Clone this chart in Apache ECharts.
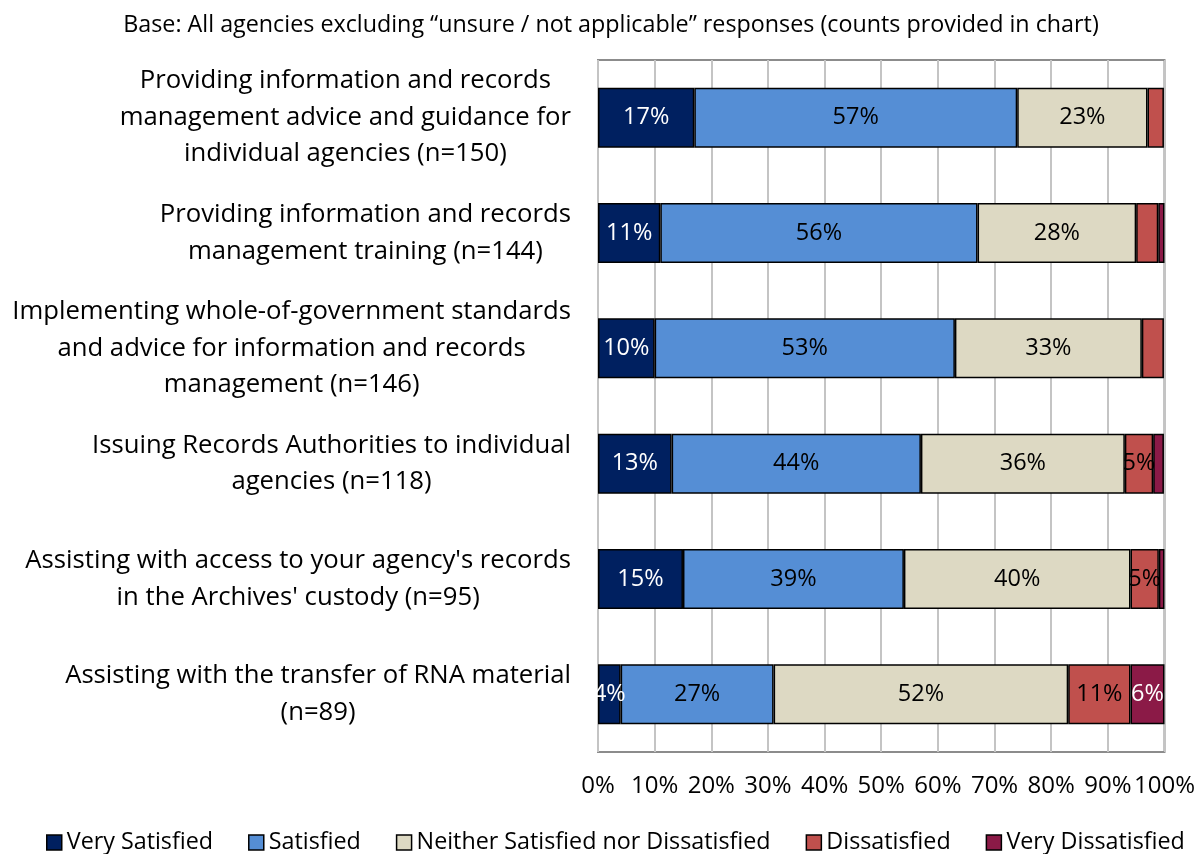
<!DOCTYPE html>
<html>
<head>
<meta charset="utf-8">
<script src="https://cdn.jsdelivr.net/npm/echarts@6/dist/echarts.min.js"></script>
<style>
  html, body { margin: 0; padding: 0; background: #fff; }
  #chart { width: 1198px; height: 854px; }
</style>
</head>
<body>
<div id="chart"></div>
<script>
const categories = [
  'Providing information and records\nmanagement advice and guidance for\nindividual agencies (n=150)',
  'Providing information and records\nmanagement training (n=144)',
  'Implementing whole-of-government standards\nand advice for information and records\nmanagement (n=146)',
  'Issuing Records Authorities to individual\nagencies (n=118)',
  "Assisting with access to your agency's records\nin the Archives' custody (n=95)",
  'Assisting with the transfer of RNA material\n(n=89)'
];
const verySatisfied = [17, 11, 10, 13, 15, 4];
const satisfied = [57, 56, 53, 44, 39, 27];
const neither = [23, 28, 33, 36, 40, 52];
const dissatisfied = [2.9, 3.9, 3.9, 5, 5, 11];
const veryDissatisfied = [0, 1.1, 0, 1.9, 1, 6];
const tickLabels = ['0%', '10%', '20%', '30%', '40%', '50%', '60%', '70%', '80%', '90%', '100%'];

const FONT = '"Open Sans", "Liberation Sans", sans-serif';

const chart = echarts.init(document.getElementById('chart'));

const makeSeries = (name, data, color, labelColor) => ({
  name: name,
  type: 'bar',
  stack: 'total',
  barWidth: '52%',
  data: data.map(v => (v > 0 ? v : null)),
  itemStyle: { color: color, borderColor: '#000', borderWidth: 1.5 },
  label: {
    show: true,
    position: 'inside',
    color: labelColor,
    fontFamily: FONT,
    fontSize: 23.5,
    formatter: p => (p.value >= 4 ? Math.round(p.value) + '%' : '')
  }
});

const option = {
  animation: false,
  title: {
    text: 'Base: All agencies excluding \u201cunsure / not applicable\u201d responses (counts provided in chart)',
    left: 606,
    textAlign: 'center',
    top: 9,
    textStyle: { fontFamily: FONT, fontSize: 23.3, fontWeight: 'normal', color: '#000' }
  },
  legend: {
    top: 831,
    left: 46,
    width: 1152,
    padding: 0,
    itemWidth: 15,
    itemHeight: 15,
    itemGap: 35,
    icon: 'rect',
    itemStyle: { borderColor: '#000', borderWidth: 1.5 },
    textStyle: { fontFamily: FONT, fontSize: 23.3, color: '#000' }
  },
  grid: {
    left: 598,
    right: 33,
    top: 60,
    bottom: 102,
    show: true,
    borderColor: '#8c8c8c',
    borderWidth: 2
  },
  xAxis: {
    type: 'value',
    min: 0,
    max: 100,
    interval: 10,
    axisLine: { show: false },
    axisTick: { show: false },
    splitLine: { lineStyle: { color: '#c4c4c4', width: 2 } },
    axisLabel: {
      margin: 22,
      color: '#000',
      fontFamily: FONT,
      fontSize: 24,
      formatter: v => tickLabels[Math.round(v / 10)]
    }
  },
  yAxis: {
    type: 'category',
    inverse: true,
    data: categories,
    axisLine: { show: false },
    axisTick: { show: false },
    axisLabel: {
      margin: 27,
      color: '#000',
      formatter: v => '{c|' + v.split('\n').join('}\n{c|') + '}',
      rich: {
        c: { align: 'center', fontFamily: FONT, fontSize: 25.7, lineHeight: 36.5, color: '#000' }
      }
    }
  },
  series: [
    makeSeries('Very Satisfied', verySatisfied, '#002060', '#fff'),
    makeSeries('Satisfied', satisfied, '#558ed5', '#000'),
    makeSeries('Neither Satisfied nor Dissatisfied', neither, '#ddd9c3', '#000'),
    makeSeries('Dissatisfied', dissatisfied, '#c0504d', '#000'),
    makeSeries('Very Dissatisfied', veryDissatisfied, '#8b1a47', '#fff')
  ]
};

chart.setOption(option);
window.addEventListener('resize', () => chart.resize());
</script>
</body>
</html>
